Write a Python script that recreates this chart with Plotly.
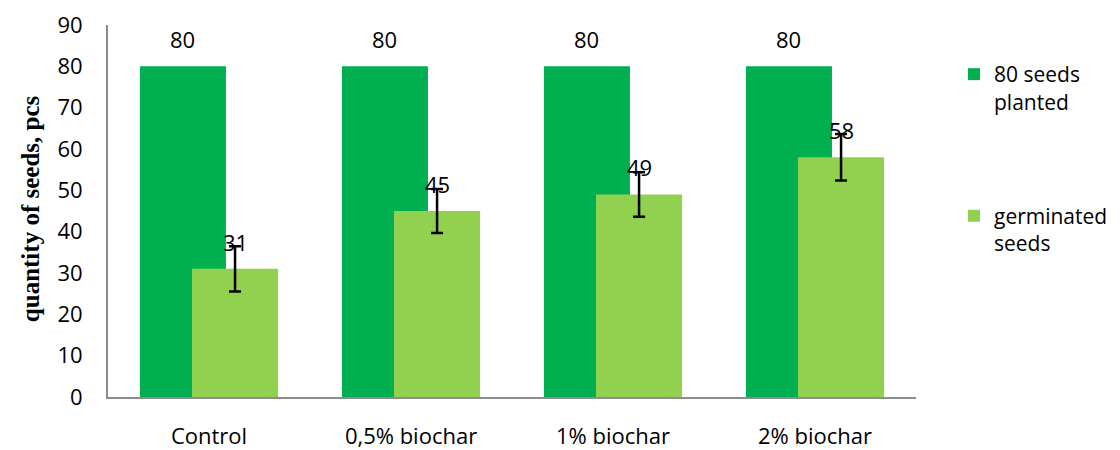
import plotly.graph_objects as go

categories = ["Control", "0,5% biochar", "1% biochar", "2% biochar"]
planted = [80, 80, 80, 80]
germinated = [31, 45, 49, 58]
germ_err = [5.5, 5.3, 5.4, 5.6]
series_names = ["80 seeds<br>planted", "germinated<br>seeds"]
y_ticks = [0, 10, 20, 30, 40, 50, 60, 70, 80, 90]
y_title = "quantity of seeds, pcs"

DARK = "#00B050"
LIGHT = "#92D050"
AXIS = "#8C8C8C"
FONT = "Open Sans, Lato, sans-serif"
FS = 22
BW = 0.426
OFF_DARK = -0.342
OFF_LIGHT = -0.084

xs = list(range(len(categories)))

fig = go.Figure()
fig.add_trace(go.Bar(
    x=xs, y=planted, name=series_names[0], legendgroup="a",
    marker=dict(color=DARK, line=dict(width=0)),
    width=BW, offset=OFF_DARK,
))
fig.add_trace(go.Bar(
    x=xs, y=germinated, name=series_names[1], legendgroup="b",
    marker=dict(color=LIGHT, line=dict(width=0)),
    width=BW, offset=OFF_LIGHT,
    error_y=dict(type="data", array=germ_err, visible=True,
                 color="black", thickness=2.5, width=6),
))

for i, v in enumerate(planted):
    fig.add_annotation(x=i + OFF_DARK + BW / 2, y=v, xref="x", yref="y",
                       text=str(v), showarrow=False, yanchor="middle", yshift=27,
                       font=dict(family=FONT, size=FS, color="black"))
for i, v in enumerate(germinated):
    fig.add_annotation(x=i + OFF_LIGHT + BW / 2, y=v, xref="x", yref="y",
                       text=str(v), showarrow=False, yanchor="middle", yshift=27,
                       font=dict(family=FONT, size=FS, color="black"))

fig.add_annotation(x=-0.0965, y=0.505, xref="paper", yref="paper",
                   text="<b>" + y_title + "</b>", textangle=-90, showarrow=False,
                   xanchor="center", yanchor="middle",
                   font=dict(family="Liberation Serif, Times New Roman, serif",
                             size=25, color="black"))

fig.update_layout(
    width=1112, height=442,
    margin=dict(l=100, r=204, t=17, b=53, autoexpand=False),
    paper_bgcolor="white", plot_bgcolor="white",
    barmode="overlay",
    font=dict(family=FONT, size=FS, color="black"),
    showlegend=True,
    legend=dict(x=1.047, xanchor="left", y=0.922, yanchor="top",
                valign="top", tracegroupgap=84,
                font=dict(family=FONT, size=21, color="black"),
                bgcolor="rgba(0,0,0,0)"),
    xaxis=dict(tickmode="array", tickvals=xs, ticktext=categories,
               range=[-0.5, len(categories) - 0.5], automargin=False,
               showline=True, linecolor=AXIS, linewidth=2,
               ticks="", showgrid=False, zeroline=False,
               ticklabelstandoff=19,
               tickfont=dict(family=FONT, size=FS, color="black")),
    yaxis=dict(range=[0, 90], tickmode="array", tickvals=y_ticks, automargin=False,
               showline=True, linecolor=AXIS, linewidth=2,
               ticks="", showgrid=False, zeroline=False,
               ticklabelstandoff=19,
               tickfont=dict(family=FONT, size=FS, color="black")),
)

fig.write_html("out.html")
